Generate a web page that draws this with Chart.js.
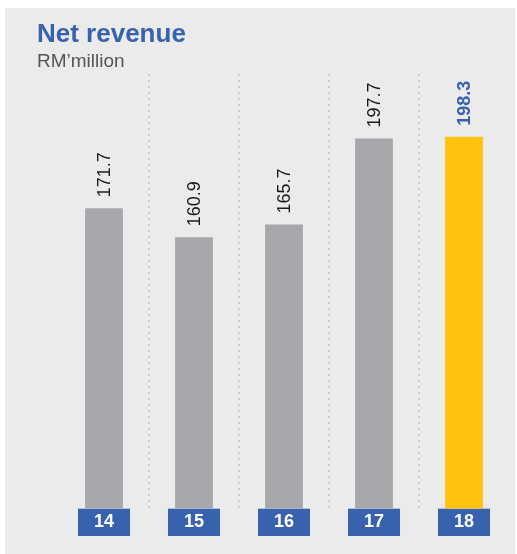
<!DOCTYPE html>
<html>
<head>
<meta charset="utf-8">
<script src="https://cdn.jsdelivr.net/npm/chart.js@4"></script>
<style>
  html, body { margin: 0; padding: 0; background: #ffffff; }
  #panel { position: absolute; left: 5px; top: 8px; width: 510px; height: 546px; background: #ebebeb; }
</style>
</head>
<body>
<div id="panel"><canvas id="myChart" width="510" height="546"></canvas></div>
<script>
// data
const years = ['14', '15', '16', '17', '18'];
const netRevenue = [171.7, 160.9, 165.7, 197.7, 198.3];
const barColors = ['#a7a8ab', '#a7a8ab', '#a7a8ab', '#a7a8ab', '#ffc20e'];

const blue = '#3862ae';

// values written upright above each bar
const valueLabels = {
  id: 'valueLabels',
  afterDatasetsDraw(chart) {
    const ctx = chart.ctx;
    const meta = chart.getDatasetMeta(0);
    meta.data.forEach((bar, i) => {
      const last = i === netRevenue.length - 1;
      ctx.save();
      ctx.translate(bar.x, bar.y - 11);
      ctx.rotate(-Math.PI / 2);
      ctx.font = (last ? 'bold ' : '') + '18px "Liberation Sans", Arial, sans-serif';
      ctx.fillStyle = last ? blue : '#1a1a1a';
      ctx.textAlign = 'left';
      ctx.textBaseline = 'middle';
      ctx.fillText(netRevenue[i].toFixed(1), 0, 1);
      ctx.restore();
    });
  }
};

const ctx = document.getElementById('myChart').getContext('2d');
const myChart = new Chart(ctx, {
  type: 'bar',
  data: {
    labels: years,
    datasets: [{
      data: netRevenue,
      backgroundColor: barColors,
      borderWidth: 0,
      barPercentage: 0.42,
      categoryPercentage: 1
    }]
  },
  options: {
    responsive: false,
    animation: false,
    layout: { padding: { top: 11, left: 32, right: 6, bottom: 18 } },
    scales: {
      x: {
        grid: {
          offset: true,
          drawTicks: false,
          lineWidth: 2,
          color: c => (c.index > 0 && c.index < years.length) ? '#cdcdcd' : 'rgba(0,0,0,0)'
        },
        border: { display: false, dash: [2, 4] },
        ticks: {
          color: '#ffffff',
          font: { family: '"Liberation Sans", Arial, sans-serif', size: 18, weight: 'bold' },
          padding: 3,
          showLabelBackdrop: true,
          backdropColor: blue,
          backdropPadding: { top: 3, bottom: 3, left: 16, right: 16 }
        }
      },
      y: {
        min: 60,
        max: 221.7,
        afterFit: s => { s.width = 22; },
        grid: { display: false },
        border: { display: false },
        ticks: { display: false }
      }
    },
    plugins: {
      legend: { display: false },
      tooltip: { enabled: false },
      title: {
        display: true,
        text: 'Net revenue',
        align: 'start',
        color: blue,
        font: { family: '"Liberation Sans", Arial, sans-serif', size: 26, weight: 'bold' },
        padding: { top: 0, bottom: 0 }
      },
      subtitle: {
        display: true,
        text: 'RM\u2019million',
        align: 'start',
        color: '#555555',
        font: { family: '"Liberation Sans", Arial, sans-serif', size: 19 },
        padding: { top: 0, bottom: 1 }
      }
    }
  },
  plugins: [valueLabels]
});
</script>
</body>
</html>
